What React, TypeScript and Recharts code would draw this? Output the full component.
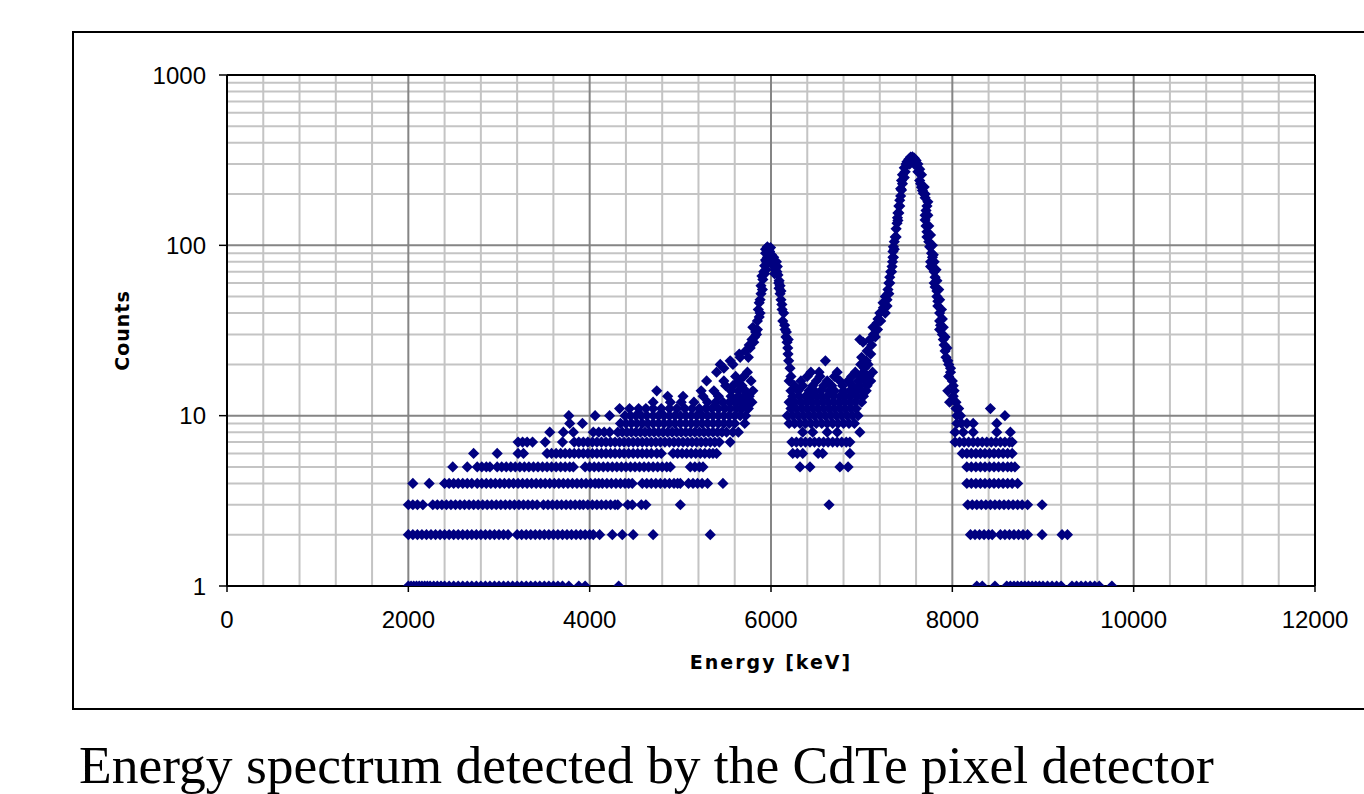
import React from 'react';
import { ScatterChart, Scatter, XAxis, YAxis, ReferenceLine } from 'recharts';

// axis ticks and grid positions (data units)
const xTicks = [0, 2000, 4000, 6000, 8000, 10000, 12000];
const yTicks = [1, 10, 100, 1000];
const xMinorGrid = [400, 800, 1200, 1600, 2400, 2800, 3200, 3600, 4400, 4800, 5200, 5600, 6400, 6800, 7200, 7600, 8400, 8800, 9200, 9600, 10400, 10800, 11200, 11600];
const xMajorGrid = [2000, 4000, 6000, 8000, 10000];
const yMinorGrid = [2, 3, 4, 5, 6, 7, 8, 9, 20, 30, 40, 50, 60, 70, 80, 90, 200, 300, 400, 500, 600, 700, 800, 900];
const yMajorGrid = [10, 100];

// energies (keV) of the channels that hold a given count
const energiesAt1 = [2000, 2030, 2060, 2090, 2120, 2150, 2180, 2210, 2240, 2280, 2320, 2360, 2400, 2450, 2500, 2550, 2600, 2650, 2700, 2750, 2800, 2850, 2900, 2950, 3000, 3050, 3100, 3150, 3200, 3250, 3300, 3350, 3400, 3450, 3500, 3550, 3600, 3650, 3700, 3770, 3880, 3950, 4320, 8270, 8330, 8470, 8600, 8640, 8680, 8720, 8760, 8800, 8840, 8880, 8920, 8960, 9000, 9050, 9100, 9150, 9200, 9320, 9370, 9420, 9470, 9520, 9570, 9620, 9760];
const energiesAt2 = [2000, 2050, 2100, 2150, 2200, 2250, 2300, 2350, 2400, 2450, 2500, 2550, 2600, 2650, 2700, 2750, 2800, 2850, 2900, 2950, 3000, 3050, 3100, 3200, 3250, 3300, 3350, 3400, 3450, 3500, 3550, 3600, 3650, 3700, 3750, 3800, 3850, 3900, 3950, 4000, 4040, 4110, 4250, 4360, 4480, 4700, 5330, 8200, 8250, 8300, 8350, 8400, 8440, 8530, 8580, 8630, 8680, 8730, 8780, 8830, 8990, 9210, 9270];
const energiesAt3 = [2000, 2050, 2100, 2160, 2270, 2320, 2370, 2420, 2470, 2520, 2570, 2620, 2670, 2720, 2770, 2820, 2870, 2920, 2970, 3020, 3070, 3120, 3170, 3220, 3270, 3320, 3370, 3420, 3490, 3540, 3590, 3640, 3690, 3740, 3790, 3840, 3890, 3930, 3980, 4030, 4080, 4130, 4180, 4230, 4280, 4310, 4420, 4470, 4570, 4620, 5000, 6640, 8170, 8220, 8270, 8320, 8370, 8420, 8470, 8520, 8570, 8620, 8670, 8720, 8770, 8830, 8990];
const energiesAt4 = [2050, 2230, 2400, 2450, 2500, 2550, 2600, 2650, 2700, 2760, 2810, 2860, 2910, 2960, 3010, 3060, 3110, 3160, 3210, 3260, 3310, 3360, 3410, 3460, 3510, 3560, 3610, 3660, 3710, 3760, 3810, 3860, 3910, 3960, 4010, 4060, 4100, 4140, 4190, 4240, 4290, 4340, 4390, 4430, 4470, 4580, 4630, 4680, 4730, 4780, 4830, 4880, 4930, 4970, 5000, 5090, 5140, 5190, 5240, 5300, 5470, 8160, 8210, 8260, 8310, 8360, 8410, 8460, 8510, 8560, 8610, 8660, 8720];
const energiesAt5 = [2490, 2650, 2760, 2810, 2860, 2900, 2980, 3030, 3080, 3130, 3180, 3230, 3280, 3330, 3380, 3430, 3480, 3530, 3580, 3630, 3680, 3730, 3780, 3820, 3950, 4000, 4050, 4100, 4150, 4200, 4250, 4300, 4350, 4400, 4450, 4500, 4550, 4600, 4650, 4700, 4750, 4800, 4850, 4890, 5110, 5160, 5210, 5250, 6320, 6430, 6760, 6850, 8160, 8210, 8260, 8310, 8360, 8410, 8460, 8510, 8560, 8610, 8650, 8690];
const energiesAt6 = [2720, 2980, 3210, 3270, 3530, 3580, 3630, 3680, 3730, 3780, 3830, 3880, 3930, 3980, 4030, 4080, 4130, 4180, 4230, 4280, 4330, 4380, 4430, 4480, 4530, 4580, 4630, 4680, 4740, 4790, 4920, 4970, 5020, 5070, 5120, 5170, 5220, 5270, 5320, 5360, 5400, 6240, 6290, 6350, 6520, 6570, 6870, 8110, 8160, 8210, 8260, 8310, 8360, 8410, 8460, 8510, 8560, 8610, 8660];
const energiesAt7 = [3210, 3260, 3310, 3370, 3510, 3700, 3830, 3880, 3930, 3980, 4030, 4080, 4130, 4180, 4230, 4280, 4330, 4380, 4430, 4480, 4530, 4580, 4630, 4680, 4730, 4780, 4830, 4880, 4930, 4980, 5030, 5080, 5130, 5180, 5230, 5280, 5330, 5380, 5430, 5550, 6230, 6280, 6330, 6380, 6430, 6480, 6530, 6580, 6630, 6680, 6730, 6780, 6830, 6870, 8030, 8080, 8130, 8180, 8230, 8280, 8330, 8380, 8430, 8480, 8530, 8580, 8630, 8660];
const energiesAt8 = [3560, 3710, 3820, 4040, 4100, 4160, 4220, 4310, 4360, 4410, 4460, 4510, 4560, 4610, 4660, 4710, 4760, 4810, 4860, 4910, 4960, 5010, 5060, 5110, 5160, 5210, 5260, 5310, 5360, 5410, 5460, 5510, 5580, 5640, 6350, 6460, 6620, 6730, 6980, 8030, 8120, 8230, 8490, 8640];
const energiesAt9 = [3780, 3920, 4340, 4400, 4460, 4520, 4580, 4640, 4700, 4760, 4820, 4880, 4940, 5000, 5060, 5120, 5180, 5240, 5300, 5360, 5420, 5480, 5540, 5600, 5710, 6200, 6260, 6320, 6380, 6440, 6500, 6560, 6620, 6680, 6740, 6800, 6860, 6920, 8050, 8100, 8160, 8230, 8490];
const energiesAt10 = [3770, 4060, 4220, 4390, 4450, 4510, 4570, 4630, 4700, 4760, 4820, 4880, 4940, 5000, 5060, 5120, 5180, 5240, 5300, 5360, 5420, 5480, 5540, 5600, 5660, 5720, 6180, 6240, 6300, 6360, 6420, 6480, 6540, 6600, 6660, 6720, 6780, 6840, 6900, 6960, 8050, 8090, 8580];
const energiesAt11 = [4330, 4440, 4540, 4620, 4700, 4790, 4880, 4960, 5050, 5130, 5210, 5280, 5350, 5420, 5490, 5550, 5620, 5680, 5750, 6220, 6280, 6340, 6400, 6460, 6520, 6580, 6640, 6700, 6760, 6820, 6880, 6940, 8040, 8070, 8420];
const energiesAt12 = [4700, 4890, 5010, 5150, 5300, 5390, 5470, 5540, 5600, 5660, 5720, 5790, 6200, 6260, 6330, 6390, 6450, 6510, 6570, 6630, 6690, 6750, 6810, 6870, 6930, 7000, 7970, 8040];
const energiesAt13 = [4860, 5030, 5250, 5420, 5560, 5640, 5700, 5760, 6240, 6310, 6380, 6440, 6500, 6560, 6620, 6690, 6760, 6820, 6880, 6950, 7020, 8010];
const energiesAt14 = [4740, 5230, 5370, 5560, 5640, 5720, 5800, 6220, 6300, 6420, 6480, 6550, 6640, 6700, 6800, 6870, 6930, 7000, 7050, 7950, 8020];
const energiesAt15 = [5500, 5580, 5680, 6260, 6350, 6460, 6580, 6670, 6790, 6900, 6980, 7060, 8010];
const energiesAt16 = [5290, 5480, 5640, 5780, 6200, 6330, 6500, 6620, 6760, 6850, 6960, 7040, 7100, 8000];
const energiesAt17 = [5610, 5700, 6220, 6400, 6540, 6700, 6890, 6990, 7080, 7960];
const energiesAt18 = [5400, 5740, 6440, 6530, 6730, 6930, 7020, 7120, 7980];

const countRows: [number, number[]][] = [
  [1, energiesAt1], [2, energiesAt2], [3, energiesAt3], [4, energiesAt4], [5, energiesAt5], [6, energiesAt6],
  [7, energiesAt7], [8, energiesAt8], [9, energiesAt9], [10, energiesAt10], [11, energiesAt11], [12, energiesAt12],
  [13, energiesAt13], [14, energiesAt14], [15, energiesAt15], [16, energiesAt16], [17, energiesAt17], [18, energiesAt18],
];

// [energy, counts] around the first peak (~6 MeV)
const peak1Points: [number, number][] = [
  [5440, 20], [5480, 19], [5550, 21], [5580, 20], [5660, 22], [5650, 23], [5720, 24], [5750, 22], [5760, 26], [5770, 25],
  [5790, 28], [5800, 33], [5810, 27], [5820, 29], [5830, 31], [5840, 30], [5850, 36], [5850, 32], [5860, 42], [5870, 46],
  [5870, 38], [5880, 40], [5880, 48], [5890, 52], [5890, 58], [5900, 66], [5905, 55], [5910, 63], [5920, 70], [5930, 76],
  [5930, 68], [5940, 82], [5940, 90], [5940, 95], [5945, 72], [5950, 90], [5950, 80], [5960, 98], [5960, 85], [5975, 95],
  [5985, 92], [5990, 85], [5995, 97], [6000, 78], [6005, 88], [6015, 84], [6025, 80], [6030, 85], [6035, 77], [6040, 68],
  [6045, 72], [6055, 75], [6060, 80], [6065, 70], [6070, 75], [6077, 67], [6085, 60], [6088, 56], [6090, 62], [6100, 52],
  [6100, 58], [6110, 48], [6110, 54], [6120, 45], [6122, 42], [6130, 36], [6140, 40], [6150, 34], [6155, 32], [6165, 29],
  [6170, 31], [6177, 27], [6185, 25], [6188, 23], [6190, 28], [6195, 21], [6210, 19], [6600, 21],
];

// [energy, counts] around the second peak (~7.5 MeV)
const peak2Points: [number, number][] = [
  [6980, 28], [6990, 20], [7000, 22], [7015, 27], [7030, 19], [7050, 21], [7060, 24], [7070, 20], [7090, 28], [7100, 23],
  [7110, 26], [7125, 33], [7130, 30], [7150, 29], [7170, 35], [7175, 32], [7180, 37], [7200, 40], [7210, 36], [7236, 46],
  [7240, 43], [7260, 40], [7260, 50], [7280, 44], [7280, 48], [7290, 52], [7290, 55], [7300, 52], [7300, 60], [7310, 60],
  [7310, 65], [7320, 70], [7330, 70], [7335, 75], [7340, 80], [7345, 85], [7345, 92], [7350, 85], [7350, 98], [7360, 95],
  [7360, 105], [7370, 112], [7380, 112], [7380, 125], [7390, 135], [7395, 145], [7400, 140], [7400, 155], [7410, 155], [7410, 170],
  [7420, 170], [7420, 184], [7430, 195], [7430, 215], [7440, 211], [7440, 240], [7450, 230], [7450, 260], [7470, 250], [7470, 285],
  [7480, 270], [7490, 300], [7500, 310], [7520, 320], [7530, 300], [7540, 330], [7560, 331], [7580, 325], [7580, 300], [7600, 315],
  [7620, 300], [7620, 270], [7640, 280], [7640, 240], [7650, 230], [7660, 260], [7660, 219], [7670, 210], [7680, 202], [7690, 220],
  [7700, 190], [7700, 200], [7720, 170], [7730, 180], [7710, 160], [7700, 150], [7730, 150], [7700, 141], [7710, 130], [7740, 130],
  [7720, 120], [7720, 112], [7760, 115], [7740, 105], [7750, 98], [7780, 100], [7770, 90], [7790, 88], [7780, 85], [7760, 80],
  [7800, 80], [7760, 75], [7800, 70], [7820, 72], [7810, 65], [7800, 60], [7830, 62], [7810, 57], [7830, 54], [7850, 55],
  [7830, 50], [7840, 47], [7860, 48], [7840, 44], [7860, 40], [7880, 42], [7860, 36], [7890, 37], [7870, 34], [7860, 32],
  [7900, 33], [7890, 30], [7900, 28], [7920, 29], [7910, 26], [7920, 24], [7940, 25], [7930, 22], [7950, 21], [7960, 20],
  [7980, 19],
];

const spectrum = [
  ...countRows.flatMap(([c, es]) => es.map((e) => ({ energy: e, counts: c }))),
  ...[...peak1Points, ...peak2Points].map(([e, c]) => ({ energy: e, counts: c })),
];

const Diamond = (props: any) => {
  const { cx, cy } = props;
  if (cx == null || cy == null) return null;
  const r = 5.6;
  return <polygon points={`${cx},${cy - r} ${cx + r},${cy} ${cx},${cy + r} ${cx - r},${cy}`} fill="#000080" />;
};

const tickStyle = { fontSize: 24, fill: '#000', fontFamily: '"Liberation Sans", Arial, sans-serif' };
const titleStyle = { fontSize: 19, fill: '#000', fontWeight: 'bold', fontFamily: '"DejaVu Sans", sans-serif', letterSpacing: 2 };

export default function App() {
  return (
    <div style={{ position: 'absolute', left: 0, top: 0, width: 1364, height: 794, overflow: 'hidden', background: '#fff' }}>
      <div style={{ position: 'absolute', left: 72, top: 31, width: 1400, height: 679, border: '2px solid #000', boxSizing: 'border-box' }} />
      <div style={{ position: 'absolute', left: 0, top: 0 }}>
        <ScatterChart width={1364} height={700} margin={{ top: 75, right: 49, bottom: 14, left: 0 }}>
          <XAxis
            type="number"
            dataKey="energy"
            domain={[0, 12000]}
            ticks={xTicks}
            interval={0}
            allowDataOverflow
            height={100}
            tickSize={6}
            tickMargin={19}
            tick={tickStyle}
            axisLine={{ stroke: '#000', strokeWidth: 2 }}
            tickLine={{ stroke: '#000', strokeWidth: 1.5 }}
            label={{ value: 'Energy [keV]', position: 'insideBottom', offset: 17, style: titleStyle }}
          />
          <YAxis
            type="number"
            dataKey="counts"
            scale="log"
            domain={[1, 1000]}
            ticks={yTicks}
            interval={0}
            allowDataOverflow
            width={227}
            tickSize={8}
            tickMargin={13}
            tick={tickStyle}
            axisLine={{ stroke: '#000', strokeWidth: 2 }}
            tickLine={{ stroke: '#000', strokeWidth: 1.5 }}
            label={{ value: 'Counts', angle: -90, position: 'insideLeft', offset: 122, style: { ...titleStyle, letterSpacing: 1, textAnchor: 'middle' } }}
          />
          {xMinorGrid.map((v) => (
            <ReferenceLine key={`xm${v}`} x={v} stroke="#c4c4c4" strokeWidth={2} />
          ))}
          {yMinorGrid.map((v) => (
            <ReferenceLine key={`ym${v}`} y={v} stroke="#c4c4c4" strokeWidth={2} />
          ))}
          {xMajorGrid.map((v) => (
            <ReferenceLine key={`xM${v}`} x={v} stroke="#858585" strokeWidth={2} />
          ))}
          {yMajorGrid.map((v) => (
            <ReferenceLine key={`yM${v}`} y={v} stroke="#858585" strokeWidth={2} />
          ))}
          <ReferenceLine y={1000} stroke="#000" strokeWidth={2} />
          <ReferenceLine x={12000} stroke="#000" strokeWidth={2} />
          <Scatter data={spectrum} shape={<Diamond />} isAnimationActive={false} />
        </ScatterChart>
      </div>
      <div
        style={{
          position: 'absolute',
          left: 79,
          top: 739,
          fontFamily: '"Liberation Serif", "Times New Roman", serif',
          fontSize: 53.5,
          lineHeight: '53px',
          whiteSpace: 'nowrap',
          color: '#000',
        }}
      >
        Energy spectrum detected by the CdTe pixel detector
      </div>
    </div>
  );
}
